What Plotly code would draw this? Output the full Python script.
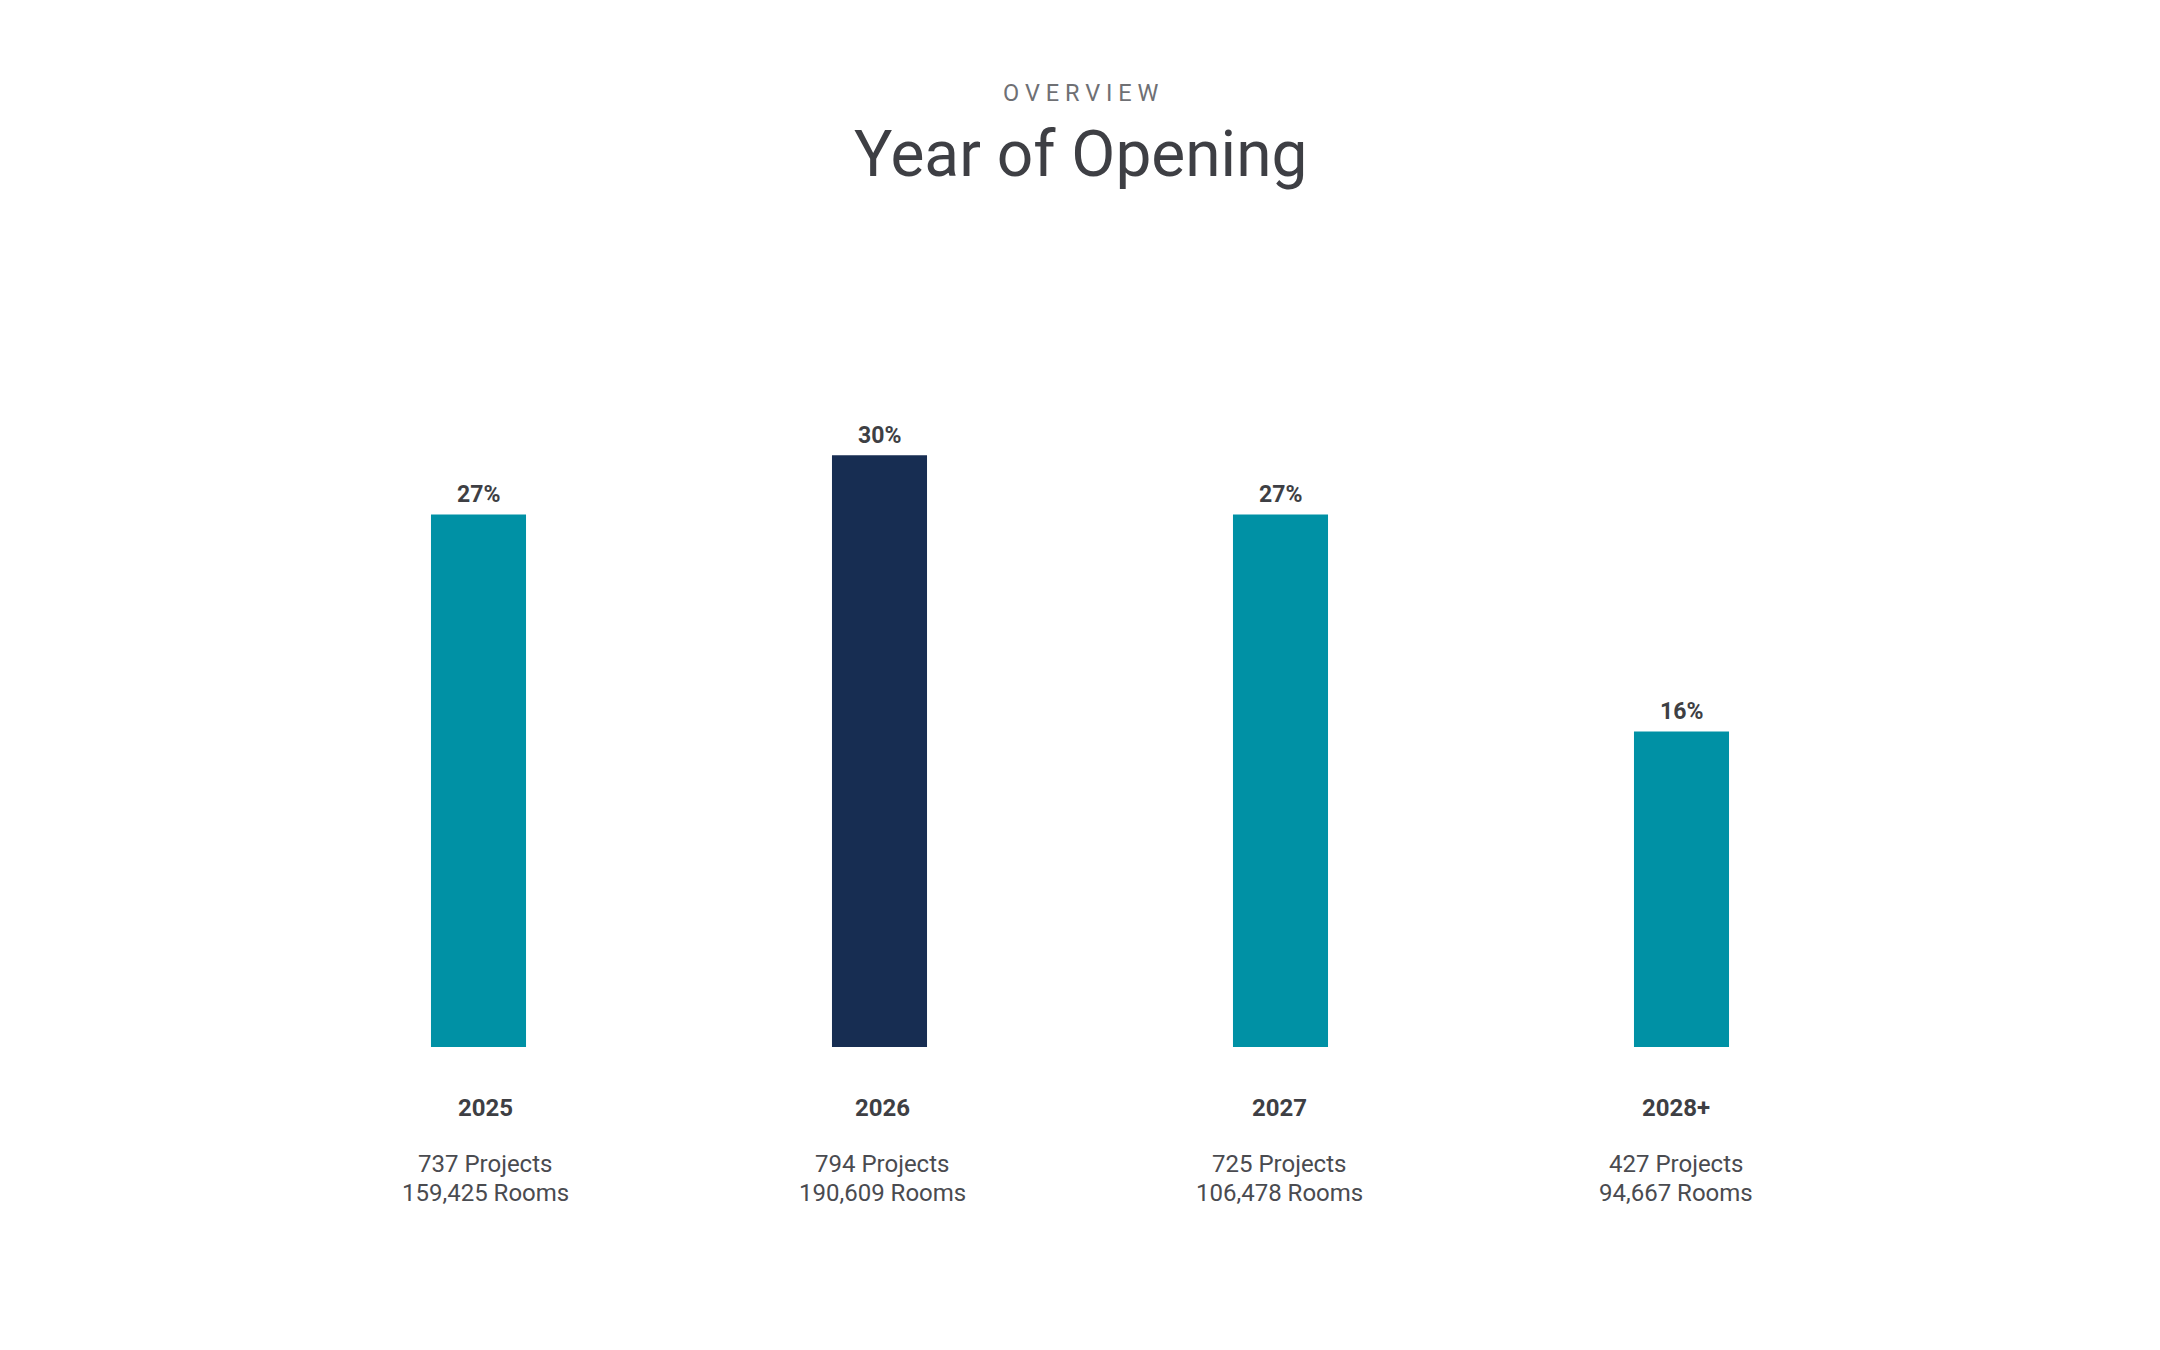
import plotly.graph_objects as go

# ---- data ----
categories = ["2025", "2026", "2027", "2028+"]
share_pct = [27, 30, 27, 16]
projects = [737, 794, 725, 427]
rooms = [159425, 190609, 106478, 94667]

# ---- style ----
TEAL = "#0091A5"
NAVY = "#172D52"
highlight = "2026"
bar_colors = [NAVY if c == highlight else TEAL for c in categories]
DARK = "#3E3F44"
MID = "#4A4B50"
FONT = "Roboto"

# page body has an 8px default margin, so the figure is drawn 8px in
OFF = 8
W, H = 2160 - 2 * OFF, 1350 - 2 * OFF
M_L, M_T = 278 - OFF, 258 - OFF
plot_w, plot_h = 1604, 789
M_R = W - M_L - plot_w
M_B = H - M_T - plot_h

# bottom labels sit on a slightly tighter pitch than the bars
bar_pitch = plot_w / len(categories)
label_pitch = 397.0
label_center_offset = (len(categories) - 1) / 2.0

fig = go.Figure()
fig.add_trace(go.Bar(
    x=categories,
    y=share_pct,
    marker=dict(color=bar_colors, line=dict(width=0)),
    hoverinfo="skip",
))

annotations = []
# percent labels above bars
for i, v in enumerate(share_pct):
    annotations.append(dict(
        x=i, y=v, xref="x", yref="y", text=f"<b>{v}%</b>",
        showarrow=False, yanchor="bottom", xanchor="center", yshift=4,
        font=dict(family=FONT, size=23, color=DARK),
    ))
# category labels below
for i, (c, p, r) in enumerate(zip(categories, projects, rooms)):
    xs = 0.5 + (i - label_center_offset) * (label_pitch - bar_pitch)
    annotations.append(dict(
        x=i, y=0, xref="x", yref="paper", text=f"<b>{c}</b>",
        showarrow=False, yanchor="top", xanchor="center", yshift=-45, xshift=xs,
        font=dict(family=FONT, size=24, color=DARK),
    ))
    annotations.append(dict(
        x=i, y=0, xref="x", yref="paper", text=f"{p:,} Projects",
        showarrow=False, yanchor="top", xanchor="center", yshift=-101, xshift=xs,
        font=dict(family=FONT, size=24, color=MID),
    ))
    annotations.append(dict(
        x=i, y=0, xref="x", yref="paper", text=f"{r:,} Rooms",
        showarrow=False, yanchor="top", xanchor="center", yshift=-130, xshift=xs,
        font=dict(family=FONT, size=24, color=MID),
    ))

# headings (page pixel -> paper coordinate)
def paper_y(px):
    return (M_T + plot_h - (px - OFF)) / plot_h

annotations.append(dict(
    x=0.5, y=paper_y(93), xref="paper", yref="paper",
    text="O V E R V I E W", showarrow=False, xanchor="center", yanchor="middle",
    font=dict(family=FONT, size=23.5, color="#6F7074"),
))
annotations.append(dict(
    x=0.5, y=paper_y(155), xref="paper", yref="paper",
    text="Year of Opening", showarrow=False, xanchor="center", yanchor="middle",
    font=dict(family=FONT, size=64, color=DARK),
))

fig.update_layout(
    width=W, height=H,
    margin=dict(l=M_L, r=M_R, t=M_T, b=M_B, autoexpand=False),
    paper_bgcolor="white", plot_bgcolor="white",
    showlegend=False,
    bargap=0.763,
    annotations=annotations,
    xaxis=dict(type="category", showticklabels=False, showgrid=False, zeroline=False,
               showline=False, ticks="", range=[-0.5, 3.5]),
    yaxis=dict(showticklabels=False, showgrid=False, zeroline=False, showline=False,
               ticks="", range=[0, 40]),
)

fig.write_html("out.html")
